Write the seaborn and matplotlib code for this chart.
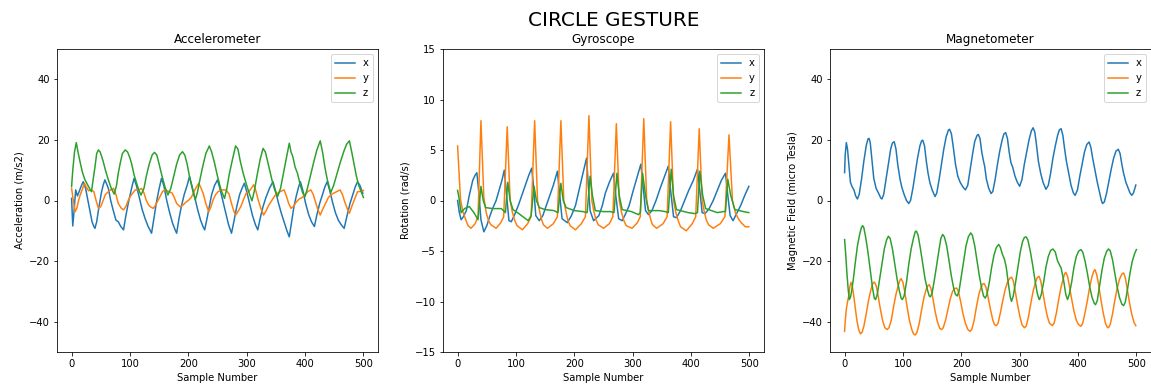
import numpy as np
import pandas as pd
import matplotlib
matplotlib.use("Agg")
import matplotlib.pyplot as plt
import seaborn as sns

# ---------------- data ----------------
axes_names = ["x", "y", "z"]

# Accelerometer (m/s2)
acc_x_s = [0, 2, 4, 7, 10, 13, 17, 20, 24, 29, 32, 35, 38, 40, 43, 47, 51, 54, 57, 60, 63, 67, 71, 76, 80, 84,
           89, 93, 97, 101, 104, 107, 111, 116, 121, 126, 131, 137, 141, 145, 149, 154, 158, 163, 168, 173, 177,
           180, 184, 188, 193, 198, 202, 206, 211, 216, 221, 225, 228, 232, 236, 240, 245, 250, 254, 259, 264,
           269, 274, 278, 283, 288, 292, 296, 300, 305, 310, 315, 319, 323, 328, 333, 339, 345, 349, 354, 359,
           364, 369, 373, 377, 381, 385, 389, 392, 396, 401, 406, 411, 416, 420, 425, 430, 434, 438, 442, 447,
           452, 457, 462, 467, 472, 477, 482, 486, 490, 494, 499]
acc_x_v = [0.7, -8.4, -4, 3.5, 1.5, 3, 5, 6.2, 4, -1, -4, -7, -8.5, -9.2, -7, -2, 2.5, 5, 6.8, 5.5, 4, 0, -3,
           -6.5, -7, -8.5, -9.7, -5, -1, 2.5, 5, 7.3, 5, 1, -3, -6, -8.5, -10.8, -6, -1, 3, 7.3, 5, 0, -4, -7.5,
           -9.5, -10.8, -6, -2, 2, 5, 7.9, 5, 1, -3, -6.5, -8.5, -9.7, -6, -2, 2, 5, 6.8, 4, 0, -4, -8, -10.8,
           -7, -2, 2, 4, 5.7, 3, -1, -5, -8, -9.7, -6, -2, 1, 4, 6.2, 3.5, -0.5, -4, -7, -10, -12, -7, -2, 1.5,
           4.5, 6.2, 3.5, -1, -4.5, -7, -8.6, -5, -1, 2, 4.5, 6.2, 3.5, -0.5, -4, -6.5, -8, -9.2, -5, -1, 2, 4.5,
           6.2, 5, 2.4]
acc_y_s = [0, 3, 6, 9, 12, 15, 19, 22, 25, 29, 33, 38, 42, 46, 50, 54, 58, 63, 67, 72, 76, 80, 85, 89, 93, 97,
           101, 105, 109, 115, 120, 124, 128, 132, 136, 140, 144, 148, 152, 156, 160, 166, 172, 176, 180, 186,
           191, 196, 200, 205, 210, 214, 218, 222, 226, 230, 235, 239, 243, 247, 251, 256, 265, 270, 274, 278,
           281, 284, 287, 290, 295, 299, 304, 308, 312, 316, 320, 324, 329, 333, 338, 343, 348, 353, 358, 364,
           368, 372, 376, 380, 385, 390, 395, 400, 405, 410, 414, 418, 422, 426, 430, 435, 440, 445, 450, 455,
           460, 464, 468, 472, 476, 480, 485, 490, 495, 500]
acc_y_v = [4.0, 0, -3.7, -2.5, 0, 2, 4, 5.7, 4.5, 3.2, 3.5, 3, 0, -2.6, -2, 0, 2, 2.9, 3.5, 4.0, 2, -1, -2.5,
           -3.1, -2, 0, 1.5, 2.5, 3.5, 3.5, 4, 2.5, 0, -1.5, -2.2, -2.6, -1.5, 0, 1.5, 3, 3.5, 3, 2.5, 1, -1,
           -2.1, -1.5, -0.5, 0, 1, 3, 4.5, 5.7, 4, 2, -1, -3.7, -2, 0.5, 2, 2.9, 3.5, 3.5, 2, -1, -3.5, -4.8, -4,
           -3, -2, 0.5, 2.4, 3, 4, 5.2, 3, 0, -2.5, -4.8, -3.5, -1.5, 0, 1.5, 2.4, 3, 3.5, 1.5, -1, -2.6, -2,
           -0.5, 0.5, 1, 2, 3, 3.5, 2, -0.5, -3, -4.8, -3, -1, 1, 2, 2.5, 3, 3.5, 2, -0.5, -2.5, -4.2, -2, 0.5,
           2.9, 3, 3.3]
acc_z_s = [0, 2, 5, 8, 11, 15, 19, 23, 29, 34, 37, 40, 43, 46, 49, 54, 58, 63, 68, 73, 77, 80, 83, 87, 92, 96,
           100, 103, 107, 112, 116, 119, 124, 128, 133, 138, 142, 146, 150, 155, 160, 165, 170, 175, 180, 185,
           190, 194, 198, 203, 208, 212, 216, 220, 225, 230, 236, 240, 245, 250, 256, 262, 266, 270, 275, 281,
           285, 289, 294, 300, 305, 309, 313, 318, 323, 328, 332, 337, 343, 348, 353, 358, 363, 368, 373, 376,
           379, 383, 387, 392, 396, 400, 404, 409, 414, 420, 426, 430, 434, 438, 442, 444, 449, 455, 461, 467,
           471, 476, 480, 484, 488, 492, 496, 500]
acc_z_v = [4.6, 10, 16, 19.1, 16, 12.3, 9, 6.8, 4.6, 2.9, 7, 11, 15.5, 16.7, 16, 13, 10, 6.8, 4, 2.1, 5, 9, 12,
           15.5, 16.7, 16, 14, 12, 8.5, 5.3, 3, 1.8, 4, 8, 12, 15, 15.9, 15, 12, 8, 4.5, 1.8, 4, 8, 12, 15, 16.1,
           15, 12, 7, 3, 0.2, 3, 7, 11.5, 15.5, 18, 16, 12.3, 8, 3.5, 0.7, 4, 8.5, 13, 18, 17, 13, 9, 5, 2, -0.1,
           3, 8.5, 13.5, 17.2, 16, 12, 7, 3.5, 1.3, 4, 9, 14, 18.9, 16, 14.5, 11, 9, 5, 2.5, 1.3, 4, 8, 12, 16.5,
           19.7, 16, 11, 7, 4, 2.6, 5, 9, 13, 16.5, 18.5, 19.7, 16, 12, 8, 5, 3, 1.0]

# Gyroscope (rad/s)
gyr_x_s = [0, 3, 6, 10, 15, 20, 26, 30, 33, 36, 40, 45, 50, 55, 60, 66, 71, 76, 80, 84, 88, 92, 97, 104, 110,
           116, 122, 127, 130, 134, 140, 146, 152, 158, 164, 171, 175, 179, 188, 195, 202, 208, 214, 221, 224,
           227, 233, 242, 248, 253, 260, 267, 271, 276, 282, 288, 294, 300, 307, 314, 318, 322, 327, 333, 340,
           347, 354, 361, 365, 370, 375, 382, 389, 396, 404, 411, 415, 419, 424, 431, 438, 445, 452, 459, 463,
           467, 472, 478, 485, 492, 499]
gyr_x_v = [0, -1.2, -1.9, -1.6, -1, 0.5, 2.0, 2.5, 2.75, 1, -1.9, -3.1, -2.5, -1.6, -0.8, 0, 1, 2, 3.0, 0.5,
           -2, -2.1, -1.5, -0.5, 0.5, 1.5, 2.5, 3.2, 1.5, -1.5, -2.0, -1.5, -0.5, 0.5, 1.5, 2.9, 0.5, -1.8, -2.2,
           -1.5, -0.5, 1, 2.5, 4.2, 1.5, -1, -2.0, -1.5, -0.5, 0.7, 1.8, 2.7, 0.5, -1.8, -2.0, -1.3, -0.5, 0.8,
           2.2, 3.6, 1.3, -1, -1.4, -1, 0, 1.2, 2.3, 3.4, 1, -1.6, -1.7, -1, 0, 1, 2, 3.1, 1, -1.2, -1.3, -0.8,
           0, 1, 2, 2.7, 0.5, -1.5, -2.0, -1.3, -0.5, 0.5, 1.4]
gyr_y_s = [0, 5, 9, 14, 18, 23, 30, 35, 40, 45, 49, 53, 57, 66, 74, 79, 85, 90, 94, 98, 102, 111, 120, 126,
           132, 137, 141, 144, 147, 154, 164, 171, 177, 182, 186, 189, 193, 202, 212, 219, 225, 230, 234, 237,
           241, 250, 260, 266, 272, 277, 281, 285, 289, 299, 308, 313, 319, 324, 328, 331, 334, 341, 352, 359,
           365, 370, 374, 378, 382, 392, 402, 408, 414, 419, 423, 426, 430, 438, 450, 458, 465, 471, 476, 481,
           486, 493, 499]
gyr_y_v = [5.4, 0.1, -1.1, -1.9, -2.5, -2.75, -2.3, -1.6, 7.9, 0.3, -1.2, -2.0, -2.4, -2.75, -2.2, -1.6, 7.3,
           0, -1.2, -2.0, -2.5, -2.9, -2.3, -1.6, 7.9, 0, -1.2, -1.9, -2.4, -2.75, -2.3, -1.6, 7.9, 0, -1.2,
           -2.0, -2.5, -2.9, -2.3, -1.6, 8.4, 0, -1.2, -1.9, -2.4, -2.75, -2.3, -1.6, 7.6, 0, -1.2, -2.0, -2.5,
           -2.75, -2.2, -1.6, 8.1, 0, -1.2, -1.9, -2.4, -2.75, -2.3, -1.6, 7.8, 0, -1.2, -2.0, -2.6, -3.0, -2.3,
           -1.6, 7.1, 0, -1.2, -1.9, -2.4, -2.75, -2.3, -1.6, 6.5, 0, -1.2, -1.8, -2.2, -2.6, -2.6]
gyr_z_s = [0, 2, 6, 12, 20, 28, 35, 40, 44, 48, 60, 75, 82, 86, 90, 95, 105, 121, 126, 131, 135, 140, 150,
           165, 172, 177, 181, 186, 200, 215, 222, 227, 231, 236, 250, 262, 268, 273, 277, 282, 298, 310, 313,
           317, 322, 327, 345, 356, 361, 366, 370, 375, 395, 407, 411, 415, 420, 425, 445, 455, 459, 463, 468,
           475, 490, 499]
gyr_z_v = [1.0, 0.4, -1.2, -0.8, -0.6, -1.2, -1.9, 1.4, 0, -0.7, -0.8, -0.8, -1.2, 1.8, 0, -0.9, -1.3, -2.0,
           -1.5, 1.4, 0, -0.7, -0.9, -1.0, -1.2, 1.7, 0, -0.7, -1.0, -1.1, -1.2, 2.4, 0.5, -1.0, -1.1, -1.1,
           -1.2, 2.7, 0.5, -0.9, -1.1, -1.4, -1.2, 2.7, 0.5, -1.0, -1.0, -1.1, -1.2, 3.1, 0.5, -0.9, -1.2, -1.3,
           -1.2, 2.9, 0.5, -0.8, -1.2, -1.1, -1.1, 2.1, 0.5, -0.9, -1.1, -1.2]

# Magnetometer (micro Tesla)
mag_x_s = [0, 1, 3, 5, 7, 10, 13, 16, 19, 22, 25, 29, 33, 37, 40, 42, 44, 47, 50, 54, 58, 62, 64, 67, 71, 75,
           79, 82, 85, 88, 91, 95, 98, 102, 106, 110, 113, 117, 121, 125, 129, 132, 134, 137, 140, 143, 146, 150,
           155, 158, 162, 166, 170, 174, 178, 180, 183, 186, 190, 194, 198, 203, 207, 211, 215, 219, 223, 227,
           229, 232, 235, 238, 240, 243, 247, 251, 254, 258, 262, 266, 270, 273, 276, 279, 282, 285, 288, 292,
           296, 300, 304, 308, 312, 316, 320, 323, 326, 329, 332, 336, 340, 345, 349, 353, 357, 361, 365, 368,
           371, 374, 377, 380, 384, 388, 392, 395, 399, 403, 407, 411, 415, 419, 422, 425, 429, 433, 437, 440,
           442, 445, 449, 453, 457, 461, 465, 469, 472, 475, 478, 482, 486, 489, 492, 495, 499]
mag_x_v = [9.2, 15, 19.1, 17, 12.5, 6, 4.5, 3.5, 1.5, 0.5, 2, 7, 13, 18, 20.3, 20.5, 19, 13, 7.3, 4, 2.5, 0.8,
           0.5, 2, 7, 12, 17, 19, 19.4, 17, 12, 7, 4.4, 2, 0, -1, 0, 4, 9, 14, 18, 19.7, 19.9, 18, 13, 9, 6, 3.5,
           1.3, 2.5, 7, 12, 17, 21, 23.3, 23.5, 22, 18, 12, 8, 6, 4.4, 3.5, 5, 10, 15, 19.5, 21.5, 21.8, 20.5,
           16, 13, 11.3, 7, 4, 2.3, 3, 7, 12, 16.5, 20, 22, 22.4, 20.5, 16, 12.5, 11, 8, 6, 4.7, 7, 12, 16, 20,
           23, 24, 22.5, 18, 13, 9, 6, 3.7, 5, 9, 14, 18, 21.5, 23.3, 23.7, 21.5, 17, 13, 9, 5, 2.5, 1.7, 3.5, 8,
           12, 16, 18.5, 19.3, 17.5, 14, 10, 6, 2.5, 0, -1, -0.5, 2.5, 6.5, 10.5, 14, 16.3, 16.9, 15.5, 12, 9, 6,
           4, 2.5, 1.7, 2.5, 5.1]
mag_y_s = [0, 1, 3, 5, 7, 9, 11, 13, 15, 18, 21, 24, 27, 30, 33, 37, 41, 45, 48, 51, 54, 57, 61, 65, 69, 73,
           76, 80, 84, 88, 92, 95, 97, 100, 103, 107, 111, 115, 118, 121, 124, 128, 132, 136, 140, 143, 145, 148,
           151, 155, 159, 163, 166, 169, 173, 177, 181, 185, 189, 192, 195, 199, 203, 207, 211, 215, 218, 222,
           226, 230, 234, 237, 239, 242, 246, 250, 254, 257, 260, 263, 267, 271, 275, 279, 283, 286, 289, 292,
           296, 300, 304, 308, 311, 315, 319, 323, 327, 330, 333, 336, 339, 343, 347, 351, 356, 359, 363, 367,
           371, 375, 377, 379, 382, 385, 389, 393, 397, 401, 405, 408, 412, 416, 420, 424, 427, 429, 432, 435,
           439, 443, 447, 450, 452, 455, 459, 463, 467, 471, 475, 478, 481, 484, 488, 492, 496, 499]
mag_y_v = [-43.2, -40, -35.8, -33.5, -31.6, -28.5, -27, -28, -30.5, -35, -39.5, -42.5, -44, -43.5, -41.5,
           -37.5, -33, -29.5, -27.5, -26.9, -28, -31, -35.5, -39.5, -42, -42.6, -42, -39.5, -35, -31, -28, -26.2,
           -25.8, -27, -30, -35, -39.5, -42.5, -44, -44.4, -43.5, -40.5, -36, -32, -29.2, -28, -27.8, -29, -32,
           -36.5, -40, -42.2, -42.6, -42, -39.5, -36, -32.5, -30, -29, -28.9, -30, -33.5, -37.5, -40.5, -42.5,
           -43.2, -42.5, -39.5, -35, -31, -28.5, -27.5, -27.4, -28.5, -32, -36, -39.5, -41, -41.3, -40.5, -37,
           -33, -29.5, -27, -25.7, -25.3, -26.5, -29.5, -34, -38, -41, -42, -41.5, -38.5, -34, -30, -27, -25.5,
           -25, -26.5, -29.5, -34, -38, -40.5, -41.3, -40.5, -37, -32.5, -28.5, -25.5, -24.2, -23.7, -25, -28,
           -32.5, -36.5, -39.5, -41, -41.5, -40.5, -37, -33, -28.5, -25, -23.3, -22.8, -24.5, -27.5, -32.5, -37,
           -40.5, -41.8, -42, -41, -37.5, -33, -29, -26, -24.3, -23.9, -25.5, -29, -33.5, -37.5, -40.3, -41.3]
mag_z_s = [0, 2, 4, 6, 8, 10, 12, 15, 18, 22, 26, 29, 31, 33, 36, 40, 44, 48, 51, 53, 56, 60, 64, 68, 72, 75,
           78, 82, 86, 90, 94, 97, 99, 102, 106, 110, 114, 118, 121, 123, 126, 130, 134, 138, 142, 145, 147, 150,
           154, 158, 162, 165, 168, 171, 175, 179, 183, 187, 190, 193, 196, 200, 204, 208, 212, 216, 219, 223,
           227, 231, 235, 238, 241, 244, 248, 252, 256, 260, 264, 267, 270, 274, 277, 281, 284, 286, 289, 293,
           297, 301, 305, 308, 311, 314, 318, 322, 326, 330, 333, 334, 337, 341, 345, 349, 353, 357, 361, 365,
           371, 375, 379, 382, 385, 389, 393, 397, 401, 405, 408, 412, 416, 420, 424, 428, 430, 433, 437, 441,
           445, 449, 452, 455, 459, 463, 467, 471, 475, 478, 481, 485, 489, 493, 497, 500]
mag_z_v = [-12.9, -18, -24, -29, -32.7, -32, -30, -26, -21, -15, -11, -8.8, -8.3, -9, -12, -17, -23, -29,
           -32.3, -32.7, -31, -26, -21, -16, -13, -11.8, -12.5, -16, -21, -26, -30, -32.3, -32.7, -31.5, -27,
           -21, -16, -12.5, -10.3, -10.1, -11.5, -16, -21, -26, -29.5, -31.5, -31.8, -30.5, -26, -21, -16,
           -12.5, -11.2, -12, -15, -20, -25, -29, -31, -31.5, -30, -25, -20, -15, -12, -10.7, -11.5, -15, -20,
           -25, -29, -31.5, -32.2, -31, -27, -22, -18, -15.5, -14.5, -15.5, -17.5, -19.5, -22, -28, -32, -33.3,
           -31.5, -27, -22, -17, -13.5, -12.2, -12, -13, -16.5, -21, -26, -30.5, -32.5, -32.7, -31, -27, -22,
           -18.5, -16.5, -16, -17, -20, -22.3, -26, -31, -32.7, -31, -27, -22, -18.5, -16.7, -16.2, -17, -20,
           -24, -28.5, -32, -34, -34.4, -33, -28, -23, -19, -16.8, -16, -16.5, -19.5, -24, -28.5, -32, -34.2,
           -34.7, -33.5, -29, -24, -20, -17.5, -16.2]

titles = ["Accelerometer", "Gyroscope", "Magnetometer"]
ylabels = ["Acceleration (m/s2)", "Rotation (rad/s)", "Magnetic Field (micro Tesla)"]
ylims = [(-50, 50), (-15, 15), (-50, 50)]
suptitle = "CIRCLE GESTURE"
xlabel = "Sample Number"


def long_frame(series):
    rows = []
    for name, (s, v) in zip(axes_names, series):
        rows.append(pd.DataFrame({"sample": s, "value": v, "axis": name}))
    return pd.concat(rows, ignore_index=True)


frames = [
    long_frame([(acc_x_s, acc_x_v), (acc_y_s, acc_y_v), (acc_z_s, acc_z_v)]),
    long_frame([(gyr_x_s, gyr_x_v), (gyr_y_s, gyr_y_v), (gyr_z_s, gyr_z_v)]),
    long_frame([(mag_x_s, mag_x_v), (mag_y_s, mag_y_v), (mag_z_s, mag_z_v)]),
]

# ---------------- figure ----------------
W, H, DPI = 1151, 390, 72
fig = plt.figure(figsize=(W / DPI, H / DPI), dpi=DPI)
lefts = [57, 443, 830]
ax_w = 321
top_px, bot_px = 49, 352
palette = dict(zip(axes_names, sns.color_palette("tab10", 3)))

for i in range(3):
    ax = fig.add_axes([lefts[i] / W, 1 - bot_px / H, ax_w / W, (bot_px - top_px) / H])
    sns.lineplot(data=frames[i], x="sample", y="value", hue="axis", palette=palette,
                 estimator=None, sort=True, ax=ax, linewidth=1.5)
    ax.set_xlim(-25, 525)
    ax.set_ylim(*ylims[i])
    ax.set_title(titles[i], fontsize=12)
    ax.set_xlabel(xlabel, fontsize=10)
    ax.set_ylabel(ylabels[i], fontsize=10)
    ax.legend(loc="upper right", fontsize=10)

fig.text(614 / W, 1 - 20 / H, suptitle, ha="center", va="center", fontsize=20)
fig.savefig("out.png", dpi=DPI)
